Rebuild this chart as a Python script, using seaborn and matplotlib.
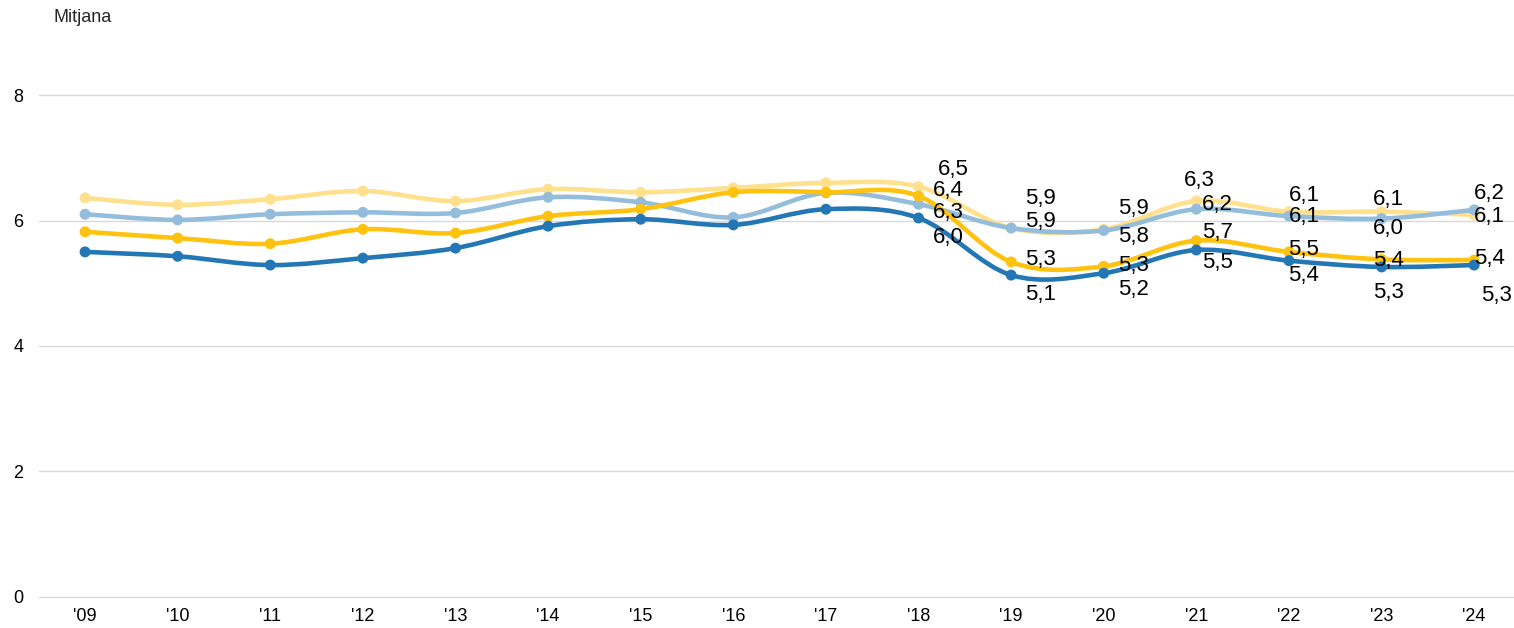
import numpy as np
import pandas as pd
import matplotlib
matplotlib.use("Agg")
import matplotlib.pyplot as plt
from matplotlib.path import Path
from matplotlib.patches import PathPatch
import seaborn as sns

years = ["'09", "'10", "'11", "'12", "'13", "'14", "'15", "'16",
         "'17", "'18", "'19", "'20", "'21", "'22", "'23", "'24"]

serie_groc_clar = [6.36, 6.25, 6.34, 6.47, 6.31, 6.50, 6.45, 6.52,
                   6.60, 6.54, 5.88, 5.86, 6.31, 6.14, 6.14, 6.09]
serie_blau_clar = [6.10, 6.01, 6.10, 6.13, 6.12, 6.37, 6.29, 6.05,
                   6.44, 6.26, 5.88, 5.84, 6.18, 6.07, 6.03, 6.17]
serie_groc = [5.82, 5.72, 5.63, 5.86, 5.80, 6.07, 6.18, 6.45,
              6.45, 6.39, 5.34, 5.27, 5.68, 5.50, 5.38, 5.37]
serie_blau = [5.50, 5.43, 5.29, 5.40, 5.56, 5.91, 6.02, 5.93,
              6.18, 6.04, 5.13, 5.16, 5.53, 5.36, 5.26, 5.29]

series = {
    "groc_clar": serie_groc_clar,
    "blau_clar": serie_blau_clar,
    "groc": serie_groc,
    "blau": serie_blau,
}
colors = {
    "groc_clar": "#ffe08c",
    "blau_clar": "#94bddc",
    "groc": "#ffc20e",
    "blau": "#2377b4",
}

# label offsets in pixels (dx, dy) for years '18..'24, screen y downwards
label_offsets = {
    "groc_clar": [(35, -17), (29, -30), (30, -21), (3, -21), (15, -16), (7, -12), (15, 2)],
    "blau_clar": [(30, 8), (29, -7), (30, 6), (21, -5), (15, 0), (7, 10), (15, -16)],
    "groc": [(30, -6), (29, -2), (30, -1), (21, -8), (15, -2), (7, 1), (15, -2)],
    "blau": [(30, 20), (29, 19), (30, 16), (21, 13), (15, 15), (7, 26), (22, 30)],
}

rows = []
for name, vals in series.items():
    for i, v in enumerate(vals):
        rows.append({"serie": name, "x": i, "any": years[i], "valor": v})
df = pd.DataFrame(rows)

sns.set_theme(style="white")
plt.rcParams["font.family"] = ["Liberation Sans", "DejaVu Sans"]

fig = plt.figure(figsize=(15.14, 6.28), dpi=100)
ax = fig.add_axes([0.0256, 0.0494, 0.9744, 0.7993])


def smooth_path(xs, ys):
    # Catmull-Rom style bezier through the data points
    pts = np.column_stack([xs, ys])
    n = len(pts)
    verts = [pts[0]]
    codes = [Path.MOVETO]
    for i in range(n - 1):
        p0 = pts[i - 1] if i > 0 else pts[i]
        p1 = pts[i]
        p2 = pts[i + 1]
        p3 = pts[i + 2] if i + 2 < n else pts[i + 1]
        c1 = p1 + (p2 - p0) / 6.0
        c2 = p2 - (p3 - p1) / 6.0
        verts += [c1, c2, p2]
        codes += [Path.CURVE4] * 3
    return Path(verts, codes)


for z, name in enumerate(series):
    sub = df[df["serie"] == name]
    patch = PathPatch(smooth_path(sub["x"].values, sub["valor"].values),
                      facecolor="none", edgecolor=colors[name], lw=3.3,
                      capstyle="round", joinstyle="round", zorder=3 + z * 2)
    ax.add_patch(patch)
    sns.scatterplot(data=sub, x="x", y="valor", color=colors[name], s=62,
                    edgecolor="none", ax=ax, zorder=4 + z * 2, legend=False)

# data labels for the last years
for name, offs in label_offsets.items():
    vals = series[name]
    for k, (dx, dy) in enumerate(offs):
        i = 9 + k
        ax.annotate(f"{vals[i]:.1f}".replace(".", ","), (i, vals[i]),
                    xytext=(dx * 0.72, -dy * 0.72), textcoords="offset points",
                    ha="center", va="center", fontsize=16, color="black",
                    zorder=20)

ax.set_xlim(-0.5, 15.43)
ax.set_ylim(0, 8)
ax.set_yticks([0, 2, 4, 6, 8])
ax.set_xticks(range(len(years)))
ax.set_xticklabels(years)
ax.yaxis.grid(True, color="#d9d9d9", lw=1)
ax.xaxis.grid(False)
for gl in ax.get_ygridlines():
    gl.set_clip_on(False)
for s in ax.spines.values():
    s.set_visible(False)
ax.tick_params(axis="both", length=0, labelsize=13, colors="black")
ax.tick_params(axis="y", pad=11)
ax.tick_params(axis="x", pad=8)
ax.set_xlabel("")
ax.set_ylabel("")

fig.text(53 / 1514, 1 - 18 / 628, "Mitjana", fontsize=13, ha="left", va="center")

fig.savefig("out.png", dpi=100)
